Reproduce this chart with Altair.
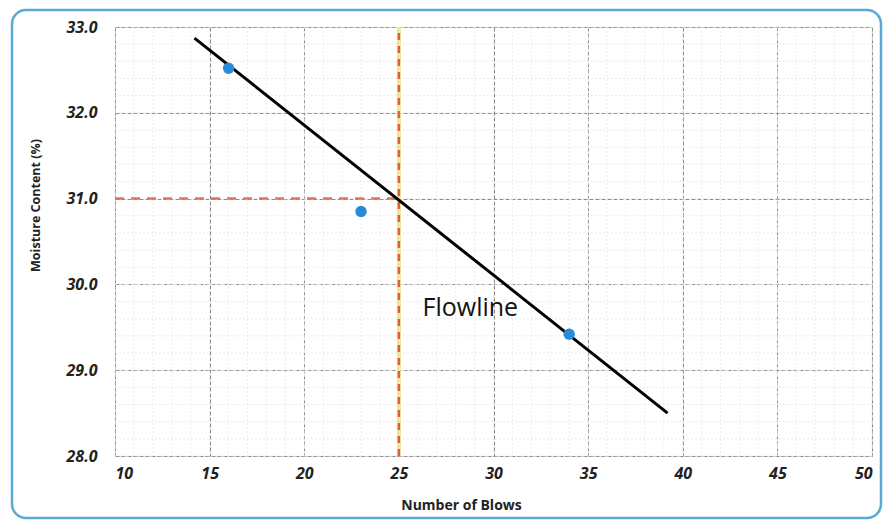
import altair as alt
import pandas as pd

# data
blows = [16, 23, 34]
moisture = [32.52, 30.85, 29.42]

flow_x = [14.2, 39.2]
flow_y = [32.87, 28.50]

ll_blows = 25
ll_moisture = 31.0

label_text = ["Flowline"]
label_x = [26.25]
label_y = [29.63]

x_ticks = [10, 15, 20, 25, 30, 35, 40, 45, 50]
y_ticks = [28, 29, 30, 31, 32, 33]
x_minor = list(range(10, 51))
y_minor = [28 + i * 0.2 for i in range(26)]

W, H = 757, 429
xs = alt.Scale(domain=[10, 50], nice=False, zero=False)
ys = alt.Scale(domain=[28, 33], nice=False, zero=False)

pts = pd.DataFrame({"x": blows, "y": moisture})
flow = pd.DataFrame({"x": flow_x, "y": flow_y})
hline = pd.DataFrame({"x": [10, ll_blows], "y": [ll_moisture, ll_moisture]})
vline = pd.DataFrame({"x": [ll_blows, ll_blows], "y": [28, 33]})
lab = pd.DataFrame({"t": label_text, "x": label_x, "y": label_y})
xm = pd.DataFrame({"x": x_minor})
ym = pd.DataFrame({"y": y_minor})

border = alt.Chart(pd.DataFrame({"a": [0]})).mark_rect(
    filled=False, stroke="#5aaad8", strokeWidth=2.5, cornerRadius=14
).encode(x=alt.value(-103), x2=alt.value(766), y=alt.value(-17), y2=alt.value(491))

minor_x = alt.Chart(xm).mark_rule(color="#e8e8e8", strokeWidth=0.8, strokeDash=[2, 2]).encode(
    x=alt.X("x:Q", scale=xs), y=alt.value(0), y2=alt.value(H)
)
minor_y = alt.Chart(ym).mark_rule(color="#e4e4e4", strokeWidth=0.8, strokeDash=[2, 2]).encode(
    y=alt.Y("y:Q", scale=ys), x=alt.value(0), x2=alt.value(W)
)

axis_x = alt.Axis(
    values=x_ticks, title="Number of Blows", grid=True, gridColor="#8a8a8a",
    gridDash=[4, 2], gridWidth=1, ticks=False, domain=False,
    labelFont="Open Sans", labelFontWeight="bold", labelFontStyle="italic",
    labelFontSize=16, labelColor="#222", labelPadding=9,
    titleFont="Open Sans", titleFontWeight="bold", titleFontSize=14,
    titleColor="#222", titleX=346, titleY=49, titleBaseline="middle",
    titleAlign="center",
)
axis_y = alt.Axis(
    values=y_ticks, format=".1f", title="Moisture Content (%)", grid=True,
    gridColor="#8a8a8a", gridDash=[4, 2], gridWidth=1, ticks=False, domain=False,
    labelFont="Open Sans", labelFontWeight="bold", labelFontStyle="italic",
    labelFontSize=16, labelColor="#222", labelPadding=18,
    titleFont="Open Sans", titleFontWeight="bold", titleFontSize=12.5,
    titleColor="#222", titleX=-80, titleY=178, titleBaseline="middle",
    titleAlign="center",
)

base_axes = alt.Chart(pts).mark_point(opacity=0).encode(
    x=alt.X("x:Q", scale=xs, axis=axis_x),
    y=alt.Y("y:Q", scale=ys, axis=axis_y),
)

v_yellow = alt.Chart(vline).mark_line(color="#f3e49a", strokeWidth=4).encode(
    x=alt.X("x:Q", scale=xs), y=alt.Y("y:Q", scale=ys)
)
v_red = alt.Chart(vline).mark_line(color="#e0603c", strokeWidth=2.5, strokeDash=[7, 6]).encode(
    x=alt.X("x:Q", scale=xs), y=alt.Y("y:Q", scale=ys)
)
h_red = alt.Chart(hline).mark_line(color="#e8744c", strokeWidth=2.5, strokeDash=[9, 7]).encode(
    x=alt.X("x:Q", scale=xs), y=alt.Y("y:Q", scale=ys)
)
flowline = alt.Chart(flow).mark_line(color="#000", strokeWidth=3).encode(
    x=alt.X("x:Q", scale=xs), y=alt.Y("y:Q", scale=ys)
)
points = alt.Chart(pts).mark_circle(color="#2a8ad6", size=130, opacity=1).encode(
    x=alt.X("x:Q", scale=xs), y=alt.Y("y:Q", scale=ys)
)
text = alt.Chart(lab).mark_text(
    align="left", baseline="alphabetic", font="Open Sans", fontSize=25, color="#111"
).encode(x=alt.X("x:Q", scale=xs), y=alt.Y("y:Q", scale=ys), text="t:N")

chart = alt.layer(
    border, minor_x, minor_y, base_axes, v_yellow, v_red, h_red, flowline, points, text
).properties(
    width=W, height=H,
    autosize=alt.AutoSizeParams(type="none"),
    padding={"left": 107, "top": 19, "right": 11, "bottom": 64},
).configure_view(stroke="#9a9a9a", strokeWidth=1).configure(background="white")

chart.save("out.html", embed_options={"renderer": "svg", "actions": False})
